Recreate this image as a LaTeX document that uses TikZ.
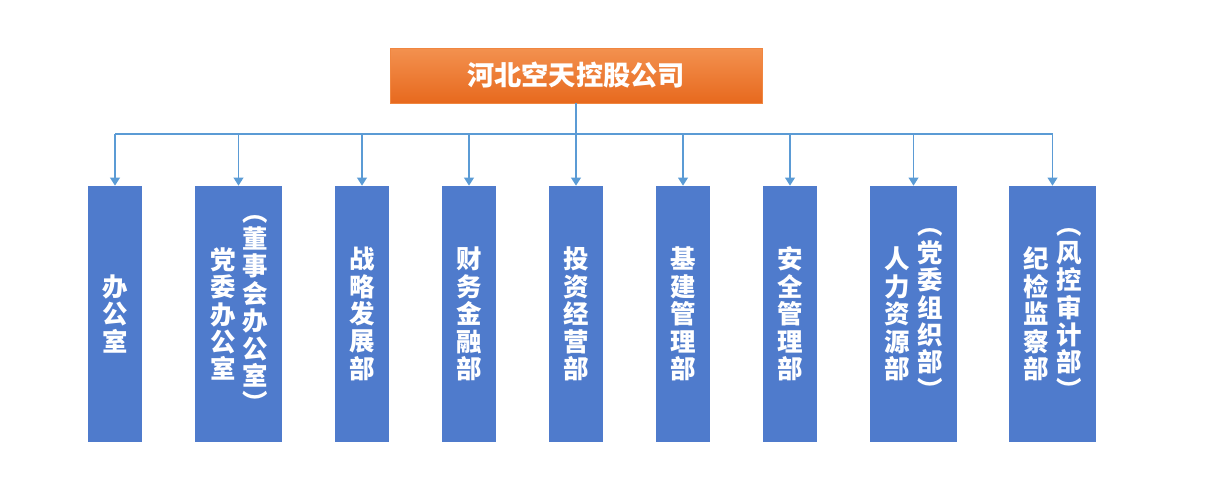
\documentclass[tikz,border=0pt]{standalone}
\usepackage{fontspec}
\usepackage{tikz}
\usepackage{xcolor}
\usetikzlibrary{positioning, arrows.meta, calc}
\newfontfamily\cjk{Noto Sans CJK SC}
\definecolor{hqTop}{HTML}{F3914F}
\definecolor{hqBot}{HTML}{E7691E}
\definecolor{hqLine}{HTML}{F08640}
\definecolor{deptBlue}{RGB}{79,123,204}
\definecolor{linkBlue}{HTML}{5B9BD5}

\begin{document}
\begin{tikzpicture}[x=0.02cm, y=-0.02cm,
  hq/.style={draw=hqLine, top color=hqTop, bottom color=hqBot,
             minimum width=7.44cm, minimum height=1.1cm, inner sep=0pt,
             font=\cjk\bfseries\fontsize{15.5}{18}\selectfont, text=white},
  dept/.style={fill=deptBlue, draw=none, minimum width=1.08cm,
               minimum height=5.12cm, inner sep=0pt},
  deptwide/.style={dept, minimum width=1.74cm},
  vtext/.style={align=center, inner sep=0pt, text=white,
                font=\cjk\bfseries\fontsize{14.5}{15.6}\selectfont},
  link/.style={linkBlue, line width=0.8pt},
  linkarrow/.style={link, -{Triangle[width=5.6pt, length=4.6pt]}},
]
  \useasboundingbox (0,0) rectangle (1212,494);

  \node[hq] (hq) at (576,75.5) {河北空天控股公司};

  \node[dept] (b1) at (115,314) {};
  \node[deptwide] (b2) at (238.5,314) {};
  \node[dept] (b3) at (362,314) {};
  \node[dept] (b4) at (469,314) {};
  \node[dept] (b5) at (576,314) {};
  \node[dept] (b6) at (683,314) {};
  \node[dept] (b7) at (790,314) {};
  \node[deptwide] (b8) at (913.5,314) {};
  \node[deptwide] (b9) at (1052.5,314) {};

  \node[vtext] (t1) at (b1.center) {办\\公\\室};
  \node[vtext] (t2a) at ($(b2.center)+(17,0)$) {︵\\董\\事\\会\\办\\公\\室\\︶};
  \node[vtext] (t2b) at ($(b2.center)+(-15.5,0)$) {党\\委\\办\\公\\室};
  \node[vtext] (t3) at (b3.center) {战\\略\\发\\展\\部};
  \node[vtext] (t4) at (b4.center) {财\\务\\金\\融\\部};
  \node[vtext] (t5) at (b5.center) {投\\资\\经\\营\\部};
  \node[vtext] (t6) at (b6.center) {基\\建\\管\\理\\部};
  \node[vtext] (t7) at (b7.center) {安\\全\\管\\理\\部};
  \node[vtext] (t8a) at ($(b8.center)+(16.5,0)$) {︵\\党\\委\\组\\织\\部\\︶};
  \node[vtext] (t8b) at ($(b8.center)+(-16.5,0)$) {人\\力\\资\\源\\部};
  \node[vtext] (t9a) at ($(b9.center)+(16.5,0)$) {︵\\风\\控\\审\\计\\部\\︶};
  \node[vtext] (t9b) at ($(b9.center)+(-16.5,0)$) {纪\\检\\监\\察\\部};

  % bus line under the company box
  \coordinate (bus) at (576,134);
  \draw[link] (hq.south) -- (bus);
  \draw[link] (b1.north |- bus) -- (b9.north |- bus);

  \draw[linkarrow] (b1.north |- bus) -- (b1.north);
  \draw[linkarrow] (b2.north |- bus) -- (b2.north);
  \draw[linkarrow] (b3.north |- bus) -- (b3.north);
  \draw[linkarrow] (b4.north |- bus) -- (b4.north);
  \draw[linkarrow] (b5.north |- bus) -- (b5.north);
  \draw[linkarrow] (b6.north |- bus) -- (b6.north);
  \draw[linkarrow] (b7.north |- bus) -- (b7.north);
  \draw[linkarrow] (b8.north |- bus) -- (b8.north);
  \draw[linkarrow] (b9.north |- bus) -- (b9.north);
\end{tikzpicture}
\end{document}
